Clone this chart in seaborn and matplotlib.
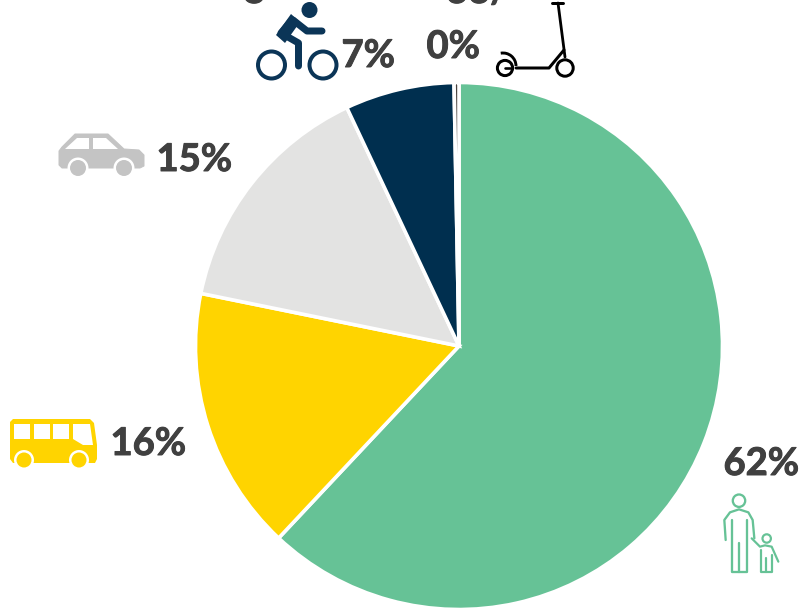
import matplotlib
matplotlib.use("Agg")
import matplotlib.pyplot as plt
import matplotlib.patheffects as pe
from matplotlib.patches import Circle, Polygon, Arc
import seaborn as sns

modes = ["Walking", "Bus", "Car", "Bicycle", "Scooter"]
shares = [62.0, 16.2, 14.8, 6.7, 0.3]
labels = ["62%", "16%", "15%", "7%", "0%"]
colors = ["#66C296", "#FFD400", "#E3E3E2", "#002F4F", "#4A4440"]

sns.set_theme(style="white")
plt.rcParams["font.family"] = ["Lato", "DejaVu Sans"]

W, H = 802, 608
fig = plt.figure(figsize=(W / 100, H / 100), dpi=100, facecolor="white")
ax = fig.add_axes([0, 0, 1, 1])


def Y(y):
    return H - y


def px(pts):
    return [(x, Y(y)) for x, y in pts]


wedges, _ = ax.pie(shares, colors=sns.color_palette(colors), startangle=90, counterclock=False,
                   center=(459, Y(346)), radius=263.5, frame=True,
                   wedgeprops=dict(edgecolor="white", linewidth=2.6))
ax.set_xlim(0, W)
ax.set_ylim(0, H)
ax.set_aspect("equal")
ax.axis("off")

TXT = "#404040"
heavy = [pe.withStroke(linewidth=0.7, foreground=TXT)]
for s, x, y in zip(labels, [723.5, 110.5, 156.5, 341.5, 426.5], [475, 455, 171, 67, 58]):
    ax.text(x, Y(y), s, fontsize=27.5, fontweight="bold", color=TXT, ha="left", va="baseline",
            path_effects=heavy)
# labels cut off by the top edge in the reference
ax.text(243, Y(3), "8", fontsize=27.5, fontweight="bold", color=TXT, ha="left", va="baseline", path_effects=heavy)
ax.text(446, Y(3), "33/", fontsize=27.5, fontweight="bold", color=TXT, ha="left", va="baseline", path_effects=heavy)


def line(pts, c, w, cap="round"):
    xs, ys = zip(*px(pts))
    ax.plot(xs, ys, color=c, lw=w * 0.72, solid_capstyle=cap, solid_joinstyle="round", zorder=4)


def disc(x, y, r, fc, ec="none", w=0, z=4):
    ax.add_patch(Circle((x, Y(y)), r, fc=fc, ec=ec, lw=w * 0.72, zorder=z))


def poly(pts, fc, z=4, ec="none", w=0):
    ax.add_patch(Polygon(px(pts), closed=True, fc=fc, ec=ec, lw=w * 0.72, joinstyle="round", zorder=z))


# Bicycle
NAVY = "#0B3557"
disc(309.5, 10, 8, NAVY)
disc(271.5, 65, 13.5, "none", NAVY, 4)
disc(323, 65, 13.5, "none", NAVY, 4)
line([(291, 21), (281, 33), (298.5, 43), (298.5, 66)], NAVY, 7)
poly([(291, 14), (300, 22), (285, 43), (276, 35)], NAVY)
line([(293, 20), (307, 31), (322, 31)], NAVY, 7)

# Scooter
K = "#000000"
line([(552, 3), (563, 3)], K, 3)
line([(558, 3), (565, 57)], K, 2.8)
disc(565, 68, 8.2, "none", K, 3)
line([(564, 50), (549, 68), (516, 68)], K, 3)
disc(505, 68, 7.6, "none", K, 3)
line([(505, 68), (510, 68)], K, 2.6)
ax.add_patch(Arc((503, Y(66)), 26, 26, theta1=0, theta2=100, color=K, lw=2.1, zorder=4))

# Car
G = "#C4C4C4"
poly([(62, 147), (75, 134), (108, 134), (124, 149), (139, 150), (144, 155), (144, 166), (140, 168),
      (62, 168), (59, 165), (59, 151)], G, ec=G, w=1)
poly([(65, 149), (77, 138), (89, 138), (89, 149)], "white", z=5)
poly([(93, 138), (106, 138), (118, 149), (93, 149)], "white", z=5)
for cx in (78, 124):
    disc(cx, 168, 10.5, "white", z=5)
    disc(cx, 168, 8, G, z=6)

# Bus
B = "#FFD400"
poly([(13, 419), (90, 419), (94, 423), (97, 445), (97, 459), (95, 463), (13, 463), (10, 459), (10, 422)], B)
for x0 in (14, 34, 53):
    poly([(x0, 424), (x0 + 15.5, 424), (x0 + 15.5, 439), (x0, 439)], "white", z=5)
poly([(73, 424), (90, 424), (93, 445), (83, 445), (73, 439)], "white", z=5)
for cx in (24, 79):
    disc(cx, 460, 10, "white", z=5)
    disc(cx, 460, 7.5, B, z=6)

# Adult and child
P = "#66C296"


def z4(pts):
    return [(710 + a / 3, 440 + b / 3) for a, b in pts]


disc(739, 500.7, 6.2, "none", P, 2.3)
line(z4([(47, 300), (43, 240), (60, 217), (87, 208), (115, 217), (128, 240), (133, 295)]), P, 2.3)
line(z4([(65, 240), (65, 395), (110, 395), (110, 240)]), P, 2.3)
line(z4([(87, 310), (87, 395)]), P, 2.3)
line(z4([(125, 295), (150, 320), (165, 316), (185, 320), (205, 365)]), P, 2.2)
disc(766.7, 538.5, 4.2, "none", P, 2.2)
line(z4([(153, 330), (153, 395), (185, 395), (185, 345)]), P, 2.2)
line(z4([(168, 355), (168, 395)]), P, 2.2)

fig.savefig("out.png", dpi=100, facecolor="white")
